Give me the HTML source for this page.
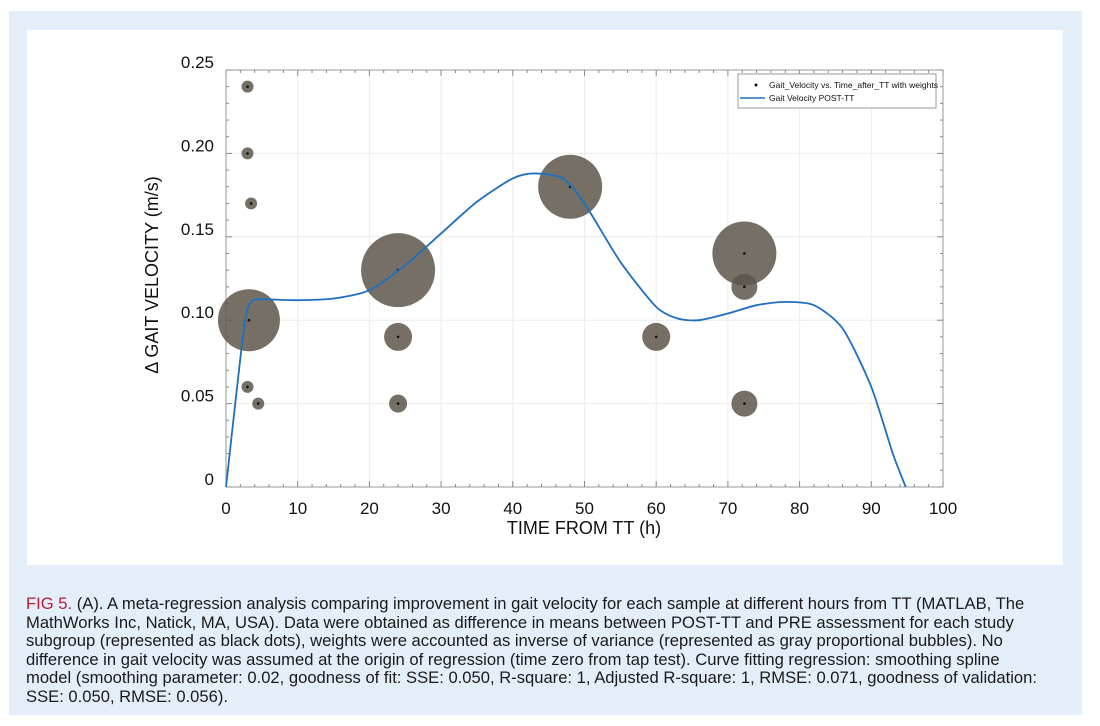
<!DOCTYPE html>
<html><head><meta charset="utf-8"><style>
body{margin:0;width:1100px;height:726px;background:#fff;font-family:"Liberation Sans",sans-serif;overflow:hidden}
#outer{position:absolute;left:9px;top:11px;width:1073px;height:704px;background:#e3eef9}
#panel{position:absolute;left:27px;top:30px;width:1036px;height:535px;background:#fff}
#cap{position:absolute;left:26px;top:595px;width:1060px;font-size:16.6px;line-height:18.6px;color:#1a1a1a;white-space:nowrap}
#cap b{color:#b0203c;font-weight:normal}
</style></head><body>
<div id="outer"></div>
<div id="panel"></div>
<svg id="chart" width="1100" height="726" style="position:absolute;left:0;top:0"></svg>
<div id="cap"><b>FIG 5.</b> (A). A meta-regression analysis comparing improvement in gait velocity for each sample at different hours from TT (MATLAB, The<br>MathWorks Inc, Natick, MA, USA). Data were obtained as difference in means between POST-TT and PRE assessment for each study<br>subgroup (represented as black dots), weights were accounted as inverse of variance (represented as gray proportional bubbles). No<br>difference in gait velocity was assumed at the origin of regression (time zero from tap test). Curve fitting regression: smoothing spline<br>model (smoothing parameter: 0.02, goodness of fit: SSE: 0.050, R-square: 1, Adjusted R-square: 1, RMSE: 0.071, goodness of validation:<br>SSE: 0.050, RMSE: 0.056).</div>
<script>
const xTicks=[0,10,20,30,40,50,60,70,80,90,100];
const yTicks=[0,0.05,0.10,0.15,0.20,0.25];
const yTickLabels=["0","0.05","0.10","0.15","0.20","0.25"];
const bubbleX=[3,3,3.5,3.2,3,4.5,24,24,24,48,60,72.3,72.3,72.3];
const bubbleY=[0.24,0.20,0.17,0.10,0.06,0.05,0.13,0.09,0.05,0.18,0.09,0.14,0.12,0.05];
const bubbleW=[6,6,6,31,6,6,37,14,9,32,14,32,13,13];
const curveX=[0,2.5,3.5,5,10,15,20,25,30,35,40,43,47,50,55,60,63,66,70,74,78,82,86,90,93,94.8];
const curveY=[0,0.095,0.111,0.1125,0.112,0.113,0.118,0.133,0.152,0.171,0.185,0.188,0.185,0.17,0.135,0.108,0.101,0.1,0.104,0.109,0.111,0.109,0.095,0.06,0.02,0];
const L=226,R=943,T=70,B=487;
const sx=v=>L+(R-L)*v/100, sy=v=>B-(B-T)*v/0.25;
const svg=document.getElementById('chart');const NS='http://www.w3.org/2000/svg';
function mk(t,a,p){const e=document.createElementNS(NS,t);for(const k in a)e.setAttribute(k,a[k]);(p||svg).appendChild(e);return e;}
xTicks.forEach(v=>{const g=mk('line',{x1:sx(v),x2:sx(v),y1:T,y2:B,stroke:'#ececec'});

});
yTicks.forEach(v=>{const g=mk('line',{x1:L,x2:R,y1:sy(v),y2:sy(v),stroke:'#ececec'});

});
const fr=mk('rect',{x:L,y:T,width:R-L,height:B-T,fill:'none',stroke:'#999','stroke-width':1});


for(let v=0;v<=100;v+=2){const len=v%10===0?6:3;
mk('line',{x1:sx(v),x2:sx(v),y1:B,y2:B-len,stroke:'#888'});mk('line',{x1:sx(v),x2:sx(v),y1:T,y2:T+len,stroke:'#888'});}
for(let i=0;i<=25;i++){const v=i*0.01;const len=i%5===0?6:3;
mk('line',{x1:L,x2:L+len,y1:sy(v),y2:sy(v),stroke:'#888'});mk('line',{x1:R,x2:R-len,y1:sy(v),y2:sy(v),stroke:'#888'});}
xTicks.forEach(v=>{const t=mk('text',{x:sx(v),y:B+27,'text-anchor':'middle','font-size':17,fill:'#111'});t.textContent=v;

});
yTicks.forEach((v,i)=>{const t=mk('text',{x:214,y:sy(v)-2,'text-anchor':'end','font-size':17,fill:'#111'});t.textContent=yTickLabels[i];

});
const xt=mk('text',{x:584,y:534,'text-anchor':'middle','font-size':18,fill:'#111'});xt.textContent='TIME FROM TT (h)';


const yt=mk('text',{x:0,y:0,'text-anchor':'middle','font-size':18,fill:'#111',transform:'translate(158,275) rotate(-90)'});yt.textContent='Δ GAIT VELOCITY (m/s)';


bubbleX.forEach((x,i)=>{const c=mk('circle',{cx:sx(x),cy:sy(bubbleY[i]),r:bubbleW[i],fill:'#5d564b','fill-opacity':0.85});


const d=mk('circle',{cx:sx(x),cy:sy(bubbleY[i]),r:1.3,fill:'#111'});

});
const P=curveX.map((x,i)=>[sx(x),sy(curveY[i])]);
let d='M'+P[0][0]+','+P[0][1];
for(let i=0;i<P.length-1;i++){const p0=P[Math.max(i-1,0)],p1=P[i],p2=P[i+1],p3=P[Math.min(i+2,P.length-1)];
d+=` C${p1[0]+(p2[0]-p0[0])/8},${p1[1]+(p2[1]-p0[1])/8} ${p2[0]-(p3[0]-p1[0])/8},${p2[1]-(p3[1]-p1[1])/8} ${p2[0]},${p2[1]}`;}
const cv=mk('path',{d:d,fill:'none',stroke:'#1f6fbf','stroke-width':1.8});


const lg=mk('g',{});


mk('rect',{x:738,y:74,width:198,height:34,fill:'#fff',stroke:'#999'},lg);
mk('circle',{cx:756,cy:85,r:1.5,fill:'#111'},lg);
mk('line',{x1:740,x2:765,y1:98,y2:98,stroke:'#1f6fbf','stroke-width':1.5},lg);
const l1=mk('text',{x:769,y:88,'font-size':8.5,fill:'#111'},lg);l1.textContent='Gait_Velocity vs. Time_after_TT with weights';
const l2=mk('text',{x:769,y:101,'font-size':8.5,fill:'#111'},lg);l2.textContent='Gait Velocity POST-TT';
</script>
</body></html>
